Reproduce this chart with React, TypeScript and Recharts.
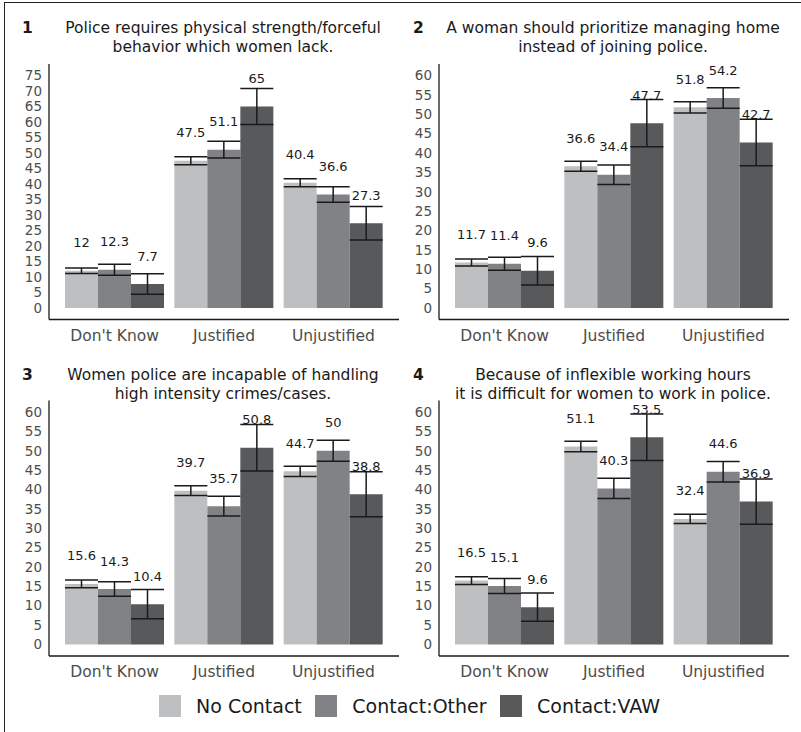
import { BarChart, Bar, XAxis, YAxis, ErrorBar, LabelList } from 'recharts';

const categories = ["Don't Know", 'Justified', 'Unjustified'];
const groups = ['No Contact', 'Contact:Other', 'Contact:VAW'];
const colors = ['#bebfc1', '#808285', '#58595b'];

const ticks75 = [0, 5, 10, 15, 20, 25, 30, 35, 40, 45, 50, 55, 60, 65, 70, 75];
const ticks60 = [0, 5, 10, 15, 20, 25, 30, 35, 40, 45, 50, 55, 60];

// panel 1
const p1NoContact = [12, 47.5, 40.4];
const p1Other = [12.3, 51.1, 36.6];
const p1Vaw = [7.7, 65, 27.3];
const p1NoContactErr = [0.9, 1.3, 1.3];
const p1OtherErr = [1.8, 2.7, 2.5];
const p1VawErr = [3.3, 5.8, 5.4];

// panel 2
const p2NoContact = [11.7, 36.6, 51.8];
const p2Other = [11.4, 34.4, 54.2];
const p2Vaw = [9.6, 47.7, 42.7];
const p2NoContactErr = [0.9, 1.3, 1.45];
const p2OtherErr = [1.7, 2.5, 2.65];
const p2VawErr = [3.7, 6.1, 6.0];

// panel 3
const p3NoContact = [15.6, 39.7, 44.7];
const p3Other = [14.3, 35.7, 50];
const p3Vaw = [10.4, 50.8, 38.8];
const p3NoContactErr = [1.0, 1.25, 1.3];
const p3OtherErr = [1.85, 2.55, 2.7];
const p3VawErr = [3.75, 6.0, 5.8];

// panel 4
const p4NoContact = [16.5, 51.1, 32.4];
const p4Other = [15.1, 40.3, 44.6];
const p4Vaw = [9.6, 53.5, 36.9];
const p4NoContactErr = [1.0, 1.35, 1.2];
const p4OtherErr = [1.95, 2.6, 2.65];
const p4VawErr = [3.65, 6.0, 5.85];

const font = '"DejaVu Sans", sans-serif';

const makeRows = (nc: number[], ot: number[], va: number[], ncE: number[], otE: number[], vaE: number[]) =>
  categories.map((cat, i) => ({
    cat,
    nc: nc[i],
    other: ot[i],
    vaw: va[i],
    ncErr: ncE[i],
    otherErr: otE[i],
    vawErr: vaE[i],
  }));

const panels = [
  {
    num: '1',
    title: ['Police requires physical strength/forceful', 'behavior which women lack.'],
    rows: makeRows(p1NoContact, p1Other, p1Vaw, p1NoContactErr, p1OtherErr, p1VawErr),
    ticks: ticks75,
    max: 75,
    left: 0,
    top: 0,
  },
  {
    num: '2',
    title: ['A woman should prioritize managing home', 'instead of joining police.'],
    rows: makeRows(p2NoContact, p2Other, p2Vaw, p2NoContactErr, p2OtherErr, p2VawErr),
    ticks: ticks60,
    max: 60,
    left: 400,
    top: 0,
  },
  {
    num: '3',
    title: ['Women police are incapable of handling', 'high intensity crimes/cases.'],
    rows: makeRows(p3NoContact, p3Other, p3Vaw, p3NoContactErr, p3OtherErr, p3VawErr),
    ticks: ticks60,
    max: 60,
    left: 0,
    top: 360,
  },
  {
    num: '4',
    title: ['Because of inflexible working hours', 'it is difficult for women to work in police.'],
    rows: makeRows(p4NoContact, p4Other, p4Vaw, p4NoContactErr, p4OtherErr, p4VawErr),
    ticks: ticks60,
    max: 60,
    left: 400,
    top: 360,
  },
];

const renderValue = (props: any) => {
  const { x, y, width, value } = props;
  return (
    <text
      x={Number(x) + Number(width) / 2}
      y={Number(y) - 28}
      textAnchor="middle"
      dominantBaseline="central"
      fontSize={13}
      fontFamily={font}
      fill="#1a1a1a"
    >
      {value}
    </text>
  );
};

const Panel = ({ p }: { p: (typeof panels)[number] }) => {
  const isLeft = p.left === 0;
  const isTop = p.top === 0;
  const yW = isLeft ? 49 : 39;
  const chartH = isTop ? 360 : 330;
  const mTop = isTop ? 64 : 40.5;
  const keys = ['nc', 'other', 'vaw'];
  return (
    <div style={{ position: 'absolute', left: p.left, top: p.top, width: 400, height: chartH }}>
      <div
        style={{
          position: 'absolute',
          left: isLeft ? 22 : 13,
          top: isTop ? 18.5 : 5.5,
          fontFamily: font,
          fontWeight: 'bold',
          fontSize: 15.5,
          lineHeight: '19px',
          color: '#1a1a1a',
        }}
      >
        {p.num}
      </div>
      <div
        style={{
          position: 'absolute',
          left: isLeft ? 23 : 13,
          width: 400,
          top: isTop ? 18.5 : 5.5,
          textAlign: 'center',
          fontFamily: font,
          fontSize: 15.5,
          lineHeight: '19px',
          color: '#1a1a1a',
          whiteSpace: 'nowrap',
        }}
      >
        {p.title[0]}
        <br />
        {p.title[1]}
      </div>
      <BarChart
        width={400}
        height={chartH}
        data={p.rows}
        margin={{ top: mTop, right: isLeft ? 1 : 11, bottom: 0, left: 0 }}
        barGap={0}
        barSize={33}
        style={{ position: 'absolute', left: 0, top: 0 }}
      >
        <XAxis
          dataKey="cat"
          interval={0}
          padding={{ left: 11, right: 11 }}
          axisLine={{ stroke: '#1a1a1a', strokeWidth: 1.3 }}
          tickLine={false}
          tickSize={0}
          tickMargin={10}
          height={chartH - mTop - 255.5}
          tick={{ fill: '#4d4d4d', fontSize: 15.5, fontFamily: font }}
        />
        <YAxis
          type="number"
          domain={[-p.max * 0.05, p.max * 1.05]}
          ticks={p.ticks}
          interval={0}
          allowDataOverflow
          width={yW}
          axisLine={{ stroke: '#1a1a1a', strokeWidth: 1.3 }}
          tickLine={false}
          tickSize={0}
          tickMargin={7}
          tick={{ fill: '#4d4d4d', fontSize: 13.5, fontFamily: font }}
        />
        {keys.map((k, i) => (
          <Bar key={k} dataKey={k} name={groups[i]} fill={colors[i]} isAnimationActive={false}>
            <ErrorBar dataKey={k + 'Err'} width={16.5} stroke="#1a1a1a" strokeWidth={1.5} />
            <LabelList dataKey={k} content={renderValue} />
          </Bar>
        ))}
      </BarChart>
    </div>
  );
};

export default function App() {
  return (
    <div
      style={{
        position: 'absolute',
        left: 0,
        top: 0,
        width: 801,
        height: 732,
        background: '#fff',
        overflow: 'hidden',
      }}
    >
      <div
        style={{
          position: 'absolute',
          left: 3.5,
          top: 2,
          width: 820,
          height: 760,
          borderTop: '1.5px solid #222',
          borderLeft: '1.5px solid #222',
        }}
      />
      {panels.map((p) => (
        <Panel key={p.num} p={p} />
      ))}
      <div
        style={{
          position: 'absolute',
          left: 159,
          top: 695,
          display: 'flex',
          alignItems: 'center',
          fontFamily: font,
          fontSize: 19,
          color: '#1a1a1a',
          height: 22,
        }}
      >
        {groups.map((g, i) => (
          <div key={g} style={{ display: 'flex', alignItems: 'center', marginRight: 13.5 }}>
            <div style={{ width: 22, height: 22, background: colors[i], marginRight: 15 }} />
            <span style={{ whiteSpace: 'nowrap' }}>{g}</span>
          </div>
        ))}
      </div>
    </div>
  );
}
